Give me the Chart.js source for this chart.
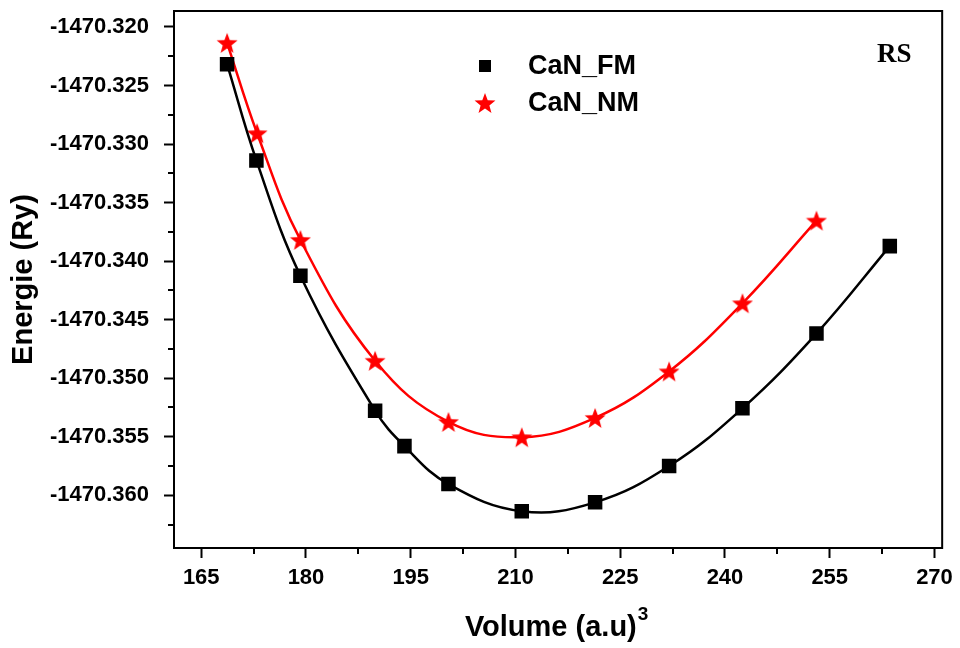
<!DOCTYPE html>
<html>
<head>
<meta charset="utf-8">
<title>CaN RS - Energie vs Volume</title>
<script src="https://cdn.jsdelivr.net/npm/chart.js@4.4.1/dist/chart.umd.min.js"></script>
<style>
  html, body { margin: 0; padding: 0; background: #ffffff; }
  #wrap { width: 960px; height: 648px; }
</style>
</head>
<body>
<div id="wrap"><canvas id="chart" width="960" height="648"></canvas></div>
<script>
// ***************************************************
// Data
// ***************************************************

var volumeFM = [168.7, 172.9, 179.2, 189.9, 194.1, 200.4, 210.9, 221.4, 232.0, 242.5, 253.1, 263.6];
var energyFM = [-1470.32318, -1470.33140, -1470.34125, -1470.35277, -1470.35580, -1470.35904,
                -1470.36136, -1470.36060, -1470.35750, -1470.35257, -1470.34619, -1470.33872];

var volumeNM = [168.7, 173.0, 179.2, 189.9, 200.4, 210.9, 221.4, 232.0, 242.5, 253.1];
var energyNM = [-1470.32136, -1470.32908, -1470.33819, -1470.34851, -1470.35373,
                -1470.35504, -1470.35339, -1470.34942, -1470.34360, -1470.33654];

var seriesNames = ['CaN_FM', 'CaN_NM'];

var xTicks = [165, 180, 195, 210, 225, 240, 255, 270];
var yTicks = [-1470.360, -1470.355, -1470.350, -1470.345, -1470.340, -1470.335, -1470.330, -1470.325, -1470.320];

(function() {

  var FONT = "'Liberation Sans', Arial, sans-serif";
  var X_TITLE = 'Volume (a.u)';
  var X_TITLE_PAD = '\u2002';   // room for the superscript

  // ***************************************************
  // Helpers
  // ***************************************************

  /**
   * Zip two arrays into {x, y} points for a linear x scale
   */
  function toPoints(xs, ys) {
    return xs.map(function(x, i) { return { x: x, y: ys[i] }; });
  }

  /**
   * Filled five-pointed star drawn once on a small canvas
   */
  function makeStar(size, color) {
    var c = document.createElement('canvas');
    c.width = size;
    c.height = size;
    var g = c.getContext('2d');
    var cx = size / 2, cy = size / 2 + 1;
    var outer = size / 2, inner = outer * 0.42;
    g.beginPath();
    for (var i = 0; i < 10; i++) {
      var r = i % 2 ? inner : outer;
      var a = -Math.PI / 2 + i * Math.PI / 5;
      g.lineTo(cx + r * Math.cos(a), cy + r * Math.sin(a));
    }
    g.closePath();
    g.fillStyle = color;
    g.fill();
    return c;
  }

  /**
   * Midpoints between major ticks (plus one outside each end) inside the scale range
   */
  function minorValues(scale, majors) {
    var step = majors[1] - majors[0];
    var out = [];
    for (var i = -1; i < majors.length; i++) {
      var v = majors[0] + (i + 0.5) * step;
      if (v >= scale.min && v <= scale.max) out.push(v);
    }
    return out;
  }

  var starImg = makeStar(22, '#ff0000');

  // ***************************************************
  // Plugins: frame, minor ticks, legend, RS label, superscript
  // ***************************************************

  var decorations = {
    id: 'decorations',
    afterDraw: function(chart) {
      var ctx = chart.ctx;
      var area = chart.chartArea;
      var xs = chart.scales.x, ys = chart.scales.y;

      ctx.save();
      ctx.strokeStyle = '#000';
      ctx.lineWidth = 2;
      ctx.strokeRect(area.left, area.top, area.right - area.left, area.bottom - area.top);

      // minor ticks
      ctx.beginPath();
      minorValues(xs, xTicks).forEach(function(v) {
        var px = Math.round(xs.getPixelForValue(v));
        ctx.moveTo(px, area.bottom);
        ctx.lineTo(px, area.bottom + 6);
      });
      minorValues(ys, yTicks).forEach(function(v) {
        var py = Math.round(ys.getPixelForValue(v));
        ctx.moveTo(area.left, py);
        ctx.lineTo(area.left - 6, py);
      });
      ctx.stroke();

      // legend inside the plot
      ctx.fillStyle = '#000';
      ctx.fillRect(485 - 6, 66 - 6, 12, 12);
      ctx.drawImage(starImg, 485 - starImg.width / 2, 103 - starImg.height / 2);
      ctx.font = 'bold 27px ' + FONT;
      ctx.textBaseline = 'middle';
      ctx.textAlign = 'left';
      ctx.fillText(seriesNames[0], 528, 67);
      ctx.fillText(seriesNames[1], 528, 104);

      // phase label
      ctx.font = "bold 27px 'Liberation Serif', 'Times New Roman', serif";
      ctx.textBaseline = 'alphabetic';
      ctx.fillText('RS', 877, 62);

      // superscript 3 on the x title
      ctx.font = 'bold 29px ' + FONT;
      var full = ctx.measureText(X_TITLE + X_TITLE_PAD).width;
      var main = ctx.measureText(X_TITLE).width;
      var cx = (xs.left + xs.right) / 2;
      ctx.font = 'bold 19px ' + FONT;
      ctx.fillText('3', cx - full / 2 + main + 1, 620);
      ctx.restore();
    }
  };

  // ***************************************************
  // Chart
  // ***************************************************

  var tickFont = { family: FONT, size: 22, weight: 'bold' };
  var titleFont = { family: FONT, size: 29, weight: 'bold' };

  new Chart(document.getElementById('chart'), {
    type: 'line',
    data: {
      datasets: [{
        label: seriesNames[0],
        data: toPoints(volumeFM, energyFM),
        borderColor: '#000000',
        backgroundColor: '#000000',
        borderWidth: 2.5,
        pointStyle: 'rect',
        pointRadius: 8.5,
        pointHoverRadius: 8.5,
        tension: 0.4
      }, {
        label: seriesNames[1],
        data: toPoints(volumeNM, energyNM),
        borderColor: '#ff0000',
        backgroundColor: '#ff0000',
        borderWidth: 2.5,
        pointStyle: starImg,
        tension: 0.4
      }]
    },
    options: {
      responsive: false,
      animation: false,
      devicePixelRatio: 1,
      layout: { padding: { top: 0, right: 16, left: 0, bottom: 0 } },
      plugins: {
        legend: { display: false },
        tooltip: { enabled: false }
      },
      scales: {
        x: {
          type: 'linear',
          min: 161.1,
          max: 271.1,
          afterBuildTicks: function(scale) {
            scale.ticks = xTicks.map(function(v) { return { value: v }; });
          },
          afterFit: function(scale) { scale.height = 100; },
          ticks: {
            color: '#000',
            font: tickFont,
            padding: 7,
            maxRotation: 0,
            callback: function(v) { return String(v); }
          },
          grid: { drawOnChartArea: false, tickLength: 10, tickColor: '#000', tickWidth: 2 },
          border: { display: true, color: '#000', width: 2 },
          title: {
            display: true,
            text: X_TITLE + X_TITLE_PAD,
            color: '#000',
            font: titleFont,
            padding: { top: 0, bottom: 3 }
          }
        },
        y: {
          type: 'linear',
          min: -1470.3645,
          max: -1470.31864,
          afterBuildTicks: function(scale) {
            scale.ticks = yTicks.map(function(v) { return { value: v }; });
          },
          afterFit: function(scale) {
            scale.width = 174;
            scale.paddingTop = 9;
            scale.paddingBottom = 0;
          },
          ticks: {
            color: '#000',
            font: tickFont,
            padding: 15,
            callback: function(v) { return Number(v).toFixed(3); }
          },
          grid: { drawOnChartArea: false, tickLength: 10, tickColor: '#000', tickWidth: 2 },
          border: { display: true, color: '#000', width: 2 },
          title: {
            display: true,
            text: 'Energie (Ry)',
            color: '#000',
            font: titleFont,
            padding: { top: 7, bottom: 0 }
          }
        }
      }
    },
    plugins: [decorations]
  });

})();
</script>
</body>
</html>
